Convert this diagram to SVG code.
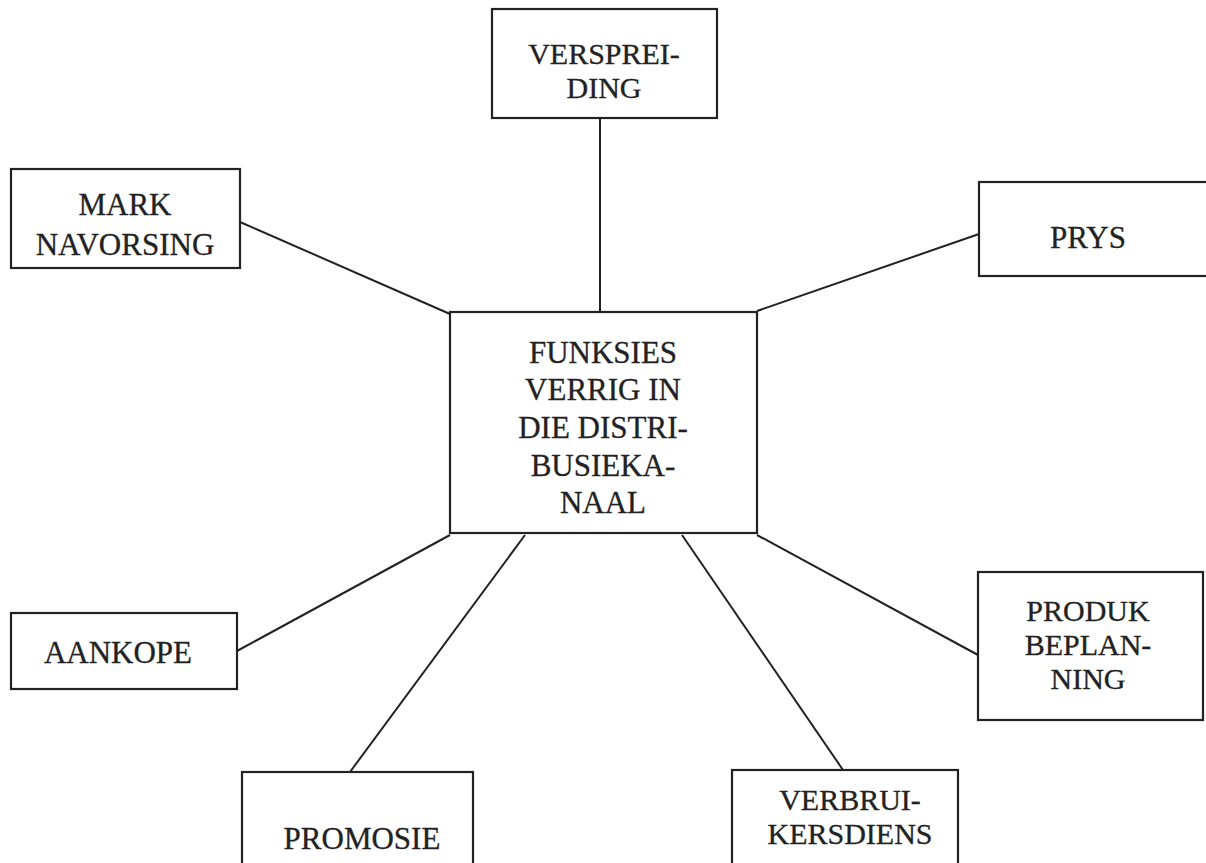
<svg xmlns="http://www.w3.org/2000/svg" width="1206" height="863" viewBox="0 0 1206 863">
<style>
.box{fill:#fff;stroke:#222;stroke-width:2.2}
.t{font-family:"Liberation Serif","Times New Roman",serif;font-size:31px;fill:#222;stroke:#222;stroke-width:0.3;text-anchor:middle}
.s{font-size:30px}
.c{stroke:#222;stroke-width:2;fill:none}
</style>
<rect width="1206" height="863" fill="#fff"/>
<g id="connectors">
<line class="c" x1="600" y1="118" x2="600" y2="312"/>
<line class="c" x1="240" y1="222" x2="450" y2="314"/>
<line class="c" x1="979" y1="234" x2="757" y2="311"/>
<line class="c" x1="237" y1="651" x2="450" y2="535"/>
<line class="c" x1="350" y1="772" x2="525" y2="535"/>
<line class="c" x1="843" y1="770" x2="682" y2="535"/>
<line class="c" x1="978" y1="655" x2="757" y2="535"/>
</g>
<g id="center">
<rect class="box" x="450" y="312" width="307" height="221"/>
<text class="t" x="603" y="363">FUNKSIES</text>
<text class="t" x="603" y="400">VERRIG IN</text>
<text class="t" x="603" y="438">DIE DISTRI-</text>
<text class="t" x="603" y="476">BUSIEKA-</text>
<text class="t" x="603" y="513">NAAL</text>
</g>
<g id="verspreiding">
<rect class="box" x="492" y="9" width="225" height="109"/>
<text class="t s" x="604" y="64">VERSPREI-</text>
<text class="t s" x="604" y="98">DING</text>
</g>
<g id="mark">
<rect class="box" x="11" y="169" width="229" height="99"/>
<text class="t" x="125" y="215">MARK</text>
<text class="t" x="125" y="255">NAVORSING</text>
</g>
<g id="prys">
<rect class="box" x="979" y="182" width="240" height="94"/>
<text class="t" x="1088" y="248">PRYS</text>
</g>
<g id="aankope">
<rect class="box" x="11" y="613" width="226" height="76"/>
<text class="t" x="118" y="663">AANKOPE</text>
</g>
<g id="produk">
<rect class="box" x="978" y="572" width="225" height="148"/>
<text class="t s" x="1088" y="621">PRODUK</text>
<text class="t s" x="1088" y="655">BEPLAN-</text>
<text class="t s" x="1088" y="689">NING</text>
</g>
<g id="promosie">
<rect class="box" x="242" y="772" width="231" height="110"/>
<text class="t" x="362" y="849">PROMOSIE</text>
</g>
<g id="verbruik">
<rect class="box" x="732" y="770" width="226" height="110"/>
<text class="t s" x="850" y="810">VERBRUI-</text>
<text class="t s" x="850" y="844">KERSDIENS</text>
</g>
</svg>
